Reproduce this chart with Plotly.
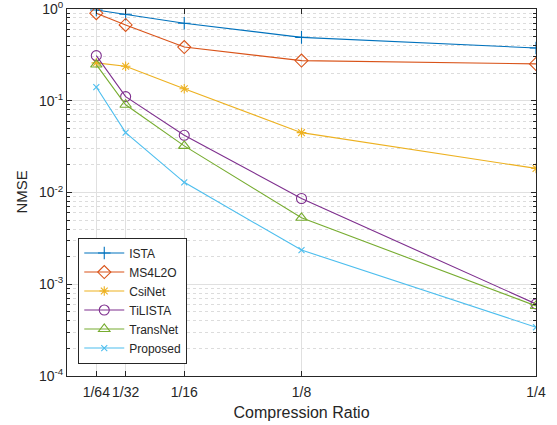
import plotly.graph_objects as go

ratios = [1/64, 1/32, 1/16, 1/8, 1/4]
ratio_labels = ["1/64", "1/32", "1/16", "1/8", "1/4"]

ista = [0.975, 0.876, 0.70, 0.49, 0.376]
ms4l2o = [0.90, 0.67, 0.385, 0.274, 0.252]
csinet = [0.259, 0.238, 0.135, 0.0449, 0.0183]
tilista = [0.31, 0.111, 0.042, 0.0086, 6.1e-4]
transnet = [0.248, 0.0905, 0.0322, 0.0053, 5.8e-4]
proposed = [0.141, 0.0449, 0.0129, 0.00236, 3.4e-4]

y_tickvals = [1e-4, 1e-3, 1e-2, 1e-1, 1e0]
y_ticktext = ["10<sup>-4</sup>", "10<sup>-3</sup>", "10<sup>-2</sup>", "10<sup>-1</sup>", "10<sup>0</sup>"]

series = [
    ("ISTA", ista, "#0072BD", "cross-thin-open", 9),
    ("MS4L2O", ms4l2o, "#D95319", "diamond-open", 10),
    ("CsiNet", csinet, "#EDB120", "asterisk-open", 8),
    ("TiLISTA", tilista, "#7E2F8E", "circle-open", 10),
    ("TransNet", transnet, "#77AC30", "triangle-up-open", 10),
    ("Proposed", proposed, "#4DBEEE", "x-thin-open", 6),
]

fig = go.Figure()
for name, vals, color, sym, size in series:
    fig.add_trace(go.Scatter(
        x=ratios, y=vals, name=name, mode="lines+markers",
        line=dict(color=color, width=1.1),
        marker=dict(symbol=sym, size=size, color=color, line=dict(color=color, width=1.1)),
    ))

axis_color = "#262626"
fig.update_layout(
    width=557, height=425,
    margin=dict(l=67, r=21, t=9, b=49),
    paper_bgcolor="white", plot_bgcolor="white",
    font=dict(family="Liberation Sans, Arial, sans-serif", size=13, color=axis_color),
    showlegend=True,
    legend=dict(x=0.024, y=0.034, xanchor="left", yanchor="bottom",
                bordercolor=axis_color, borderwidth=1, bgcolor="white",
                font=dict(size=12), tracegroupgap=0, itemwidth=40),
    annotations=[dict(text="NMSE", xref="paper", yref="paper", x=-0.098, y=0.5,
                      textangle=-90, showarrow=False, font=dict(size=15),
                      xanchor="center", yanchor="middle")],
)
fig.update_xaxes(
    range=[0, 0.25], tickvals=ratios, ticktext=ratio_labels, tickangle=0,
    ticks="inside", ticklen=5, tickcolor=axis_color, automargin=False,
    showline=True, linecolor=axis_color, linewidth=1, mirror="ticks",
    showgrid=True, gridcolor="#e0e0e0", gridwidth=1, zeroline=False,
    tickfont=dict(size=14), ticklabeloverflow="allow", ticklabelstandoff=3,
    title=dict(text="Compression Ratio", font=dict(size=16), standoff=8),
)
fig.update_yaxes(
    type="log", range=[-4, 0], tickvals=y_tickvals, ticktext=y_ticktext,
    ticks="inside", ticklen=5, tickcolor=axis_color, automargin=False,
    showline=True, linecolor=axis_color, linewidth=1, mirror="ticks",
    showgrid=True, gridcolor="#e0e0e0", gridwidth=1, zeroline=False,
    tickfont=dict(size=14), ticklabeloverflow="allow",
    minor=dict(ticks="inside", ticklen=3, tickcolor=axis_color, showgrid=True,
               gridcolor="#dcdcdc", griddash="dot", gridwidth=1, dtick="D1"),
)
fig.write_html("out.html", config={"displayModeBar": False},
               post_script="document.body.style.margin='0';")
